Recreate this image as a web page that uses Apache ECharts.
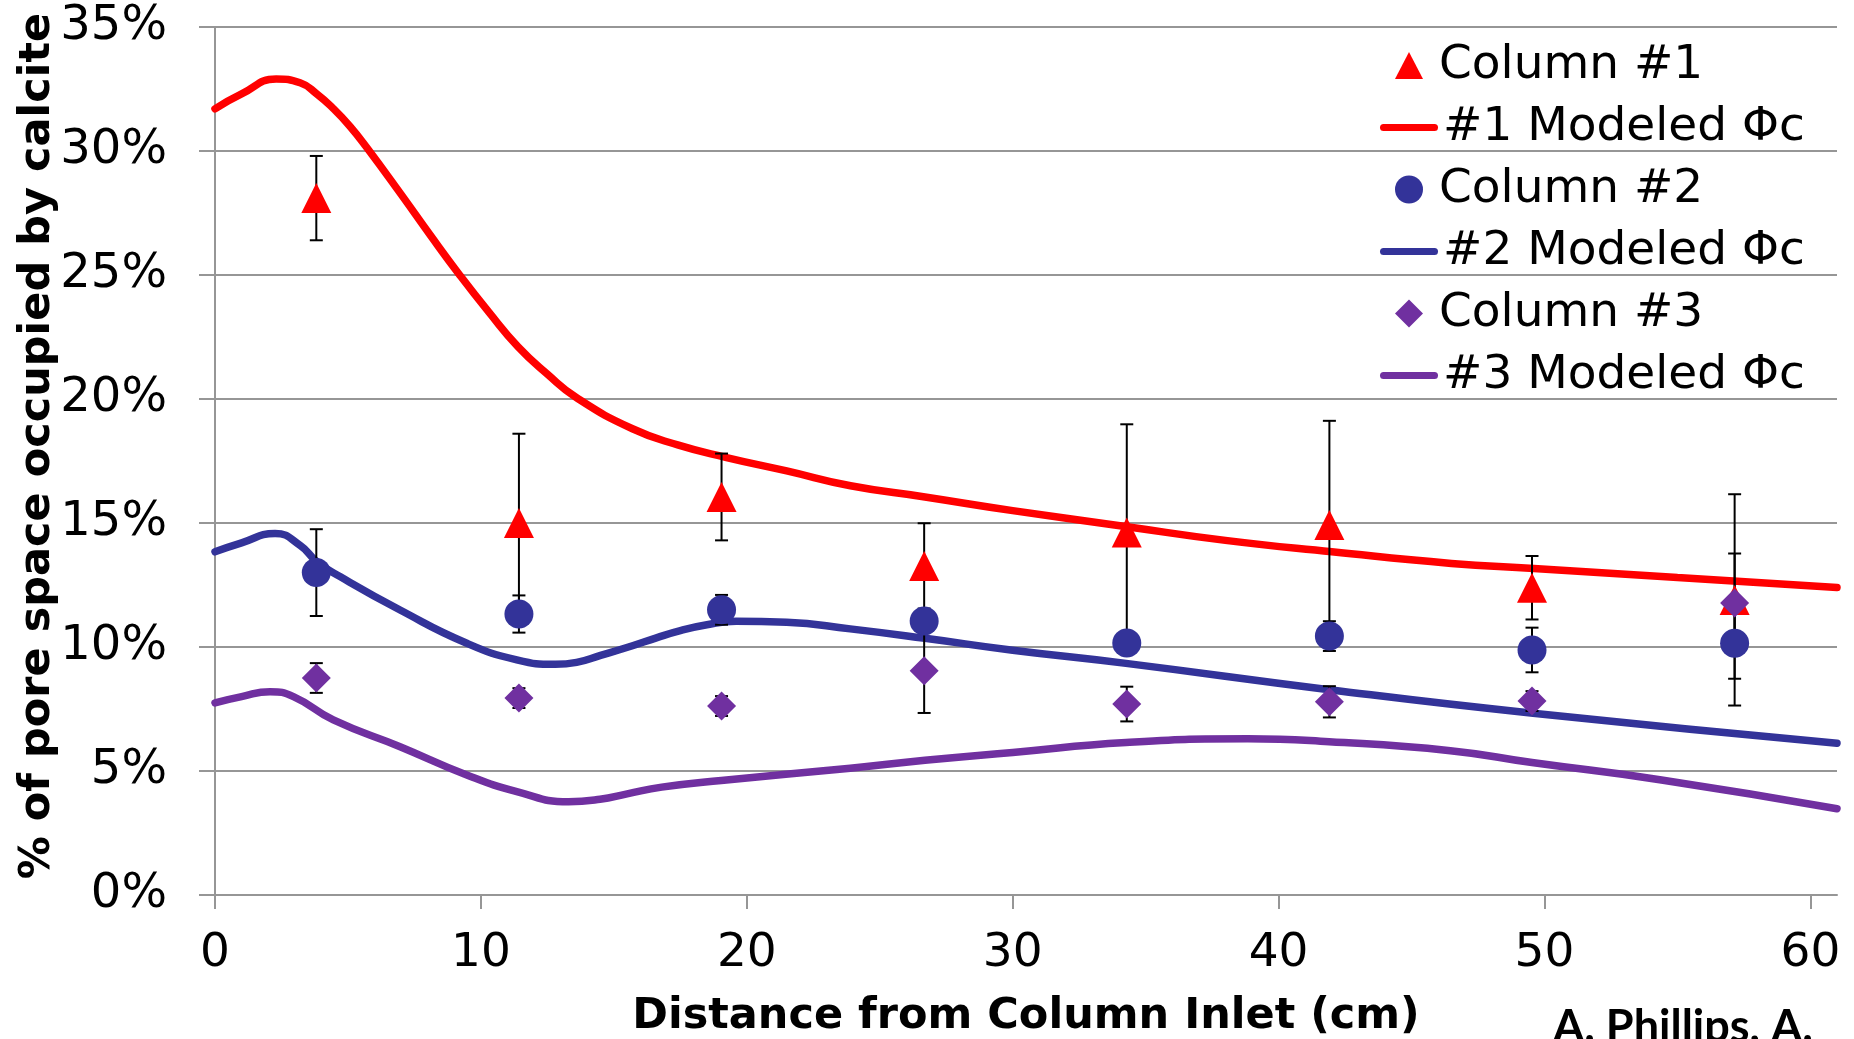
<!DOCTYPE html>
<html><head><meta charset="utf-8">
<script src="https://cdn.jsdelivr.net/npm/echarts@6/dist/echarts.min.js"></script>
<style>html,body{margin:0;padding:0;background:#fff}#c{width:1854px;height:1039px}</style>
</head><body><div id="c"></div>
<script>
// ---- data ----
const distances = [3.81, 11.43, 19.05, 26.67, 34.29, 41.91, 49.53, 57.15];
const col1 = [28.1, 15.0, 16.05, 13.27, 14.62, 14.92, 12.39, 11.9];
const col1Err = [1.7, 3.6, 1.75, 1.72, 4.36, 4.2, 1.28, 4.26];
const col2 = [13.0, 11.33, 11.5, 11.05, 10.16, 10.44, 9.88, 10.15];
const col2Err = [1.75, 0.75, 0.6, 0.4, 0.4, 0.6, 0.9, 1.43];
const col3 = [8.75, 7.94, 7.62, 9.04, 7.70, 7.79, 7.82, 11.77];
const col3Err = [0.6, 0.4, 0.4, 1.7, 0.7, 0.63, 0.4, 2.0];

const model1X = [0, 1, 2.3, 3.2, 3.83, 4.45, 5.08, 5.7, 7.0, 8.1, 9.2, 10.3, 11.4, 12.5, 13.6, 15.7, 17.4, 19.2, 21.5, 23.9, 26.7, 30, 34.3, 38, 42, 46.5, 49.6, 55, 61];
const model1Y = [31.7, 32.3, 32.9, 32.75, 32.3, 31.71, 30.99, 30.15, 28.25, 26.6, 25.0, 23.5, 22.1, 21.0, 20.05, 18.8, 18.15, 17.65, 17.1, 16.5, 16.05, 15.5, 14.85, 14.3, 13.84, 13.37, 13.17, 12.8, 12.4];
const model2X = [0, 1, 2.26, 3.2, 3.83, 4.7, 6.96, 9.47, 11.35, 12.8, 13.6, 14.5, 15.7, 16.6, 17.5, 18.5, 19.6, 21.5, 23.89, 26.7, 30, 34.26, 41.98, 49.57, 61];
const model2Y = [13.84, 14.2, 14.58, 14.1, 13.44, 12.84, 11.49, 10.15, 9.48, 9.3, 9.38, 9.66, 10.05, 10.37, 10.66, 10.9, 11.04, 11.0, 10.73, 10.35, 9.87, 9.34, 8.27, 7.33, 6.12];
const model3X = [0, 1, 2.07, 2.95, 4.45, 6.96, 9.47, 11.35, 13.3, 14.48, 15.5, 16.8, 19.04, 23.89, 26.7, 30, 34.26, 38.84, 41.9, 46.46, 49.53, 54.4, 61];
const model3Y = [7.75, 8.0, 8.2, 8.0, 7.06, 5.98, 4.84, 4.17, 3.76, 3.86, 4.08, 4.35, 4.62, 5.11, 5.43, 5.75, 6.15, 6.3, 6.18, 5.82, 5.34, 4.64, 3.48];

const xTicks = [0, 10, 20, 30, 40, 50, 60];
const yMin = 0, yMax = 35, yStep = 5;

const names = ['Column #1', '#1 Modeled Φc', 'Column #2', '#2 Modeled Φc', 'Column #3', '#3 Modeled Φc'];
const colors = ['#FF0000', '#333399', '#7030A0'];

// ---- helpers ----
const pairs = (xs, ys) => xs.map((x, i) => [x, ys[i]]);
const errData = (vals, errs) => distances.map((x, i) => [x, vals[i] - errs[i], vals[i] + errs[i]]);
function renderErr(params, api) {
  const x = api.value(0), lo = api.value(1), hi = api.value(2);
  const a = api.coord([x, lo]), b = api.coord([x, hi]);
  const w = 6.5;
  const st = { stroke: '#000', lineWidth: 2 };
  return { type: 'group', children: [
    { type: 'line', shape: { x1: a[0], y1: a[1], x2: b[0], y2: b[1] }, style: st },
    { type: 'line', shape: { x1: a[0] - w, y1: a[1], x2: a[0] + w, y2: a[1] }, style: st },
    { type: 'line', shape: { x1: b[0] - w, y1: b[1], x2: b[0] + w, y2: b[1] }, style: st }
  ]};
}
const gray = '#969696';
const font = '"DejaVu Sans", Verdana, sans-serif';
// legend icons drawn inside a 58x28 box (the leading moves fix the box)
const box = 'M0,0 M58,28 ';
const lineIcon = 'path://' + box + 'M32.5,10.5 L54.5,10.5 A3.5,3.5 0 0 1 54.5,17.5 L3.5,17.5 A3.5,3.5 0 0 1 3.5,10.5 Z';
const triIcon = 'path://' + box + 'M29,0.5 L43,27.5 L15,27.5 Z';
const dotIcon = 'path://' + box + 'M15,14 A14,14 0 1 1 43,14 A14,14 0 1 1 15,14 Z';
const diaIcon = 'path://' + box + 'M29,0 L43,14 L29,28 L15,14 Z';
const legendIcons = [triIcon, lineIcon, dotIcon, lineIcon, diaIcon, lineIcon];

const chart = echarts.init(document.getElementById('c'), null, { renderer: 'canvas' });
const lineSeries = (name, xs, ys, color) => ({
  name, type: 'line', data: pairs(xs, ys), smooth: 0.5, symbol: 'none', showSymbol: false,
  lineStyle: { color, width: 7.5, cap: 'round', join: 'round' }, itemStyle: { color }, z: 2, silent: true, animation: false
});
const scatterSeries = (name, vals, symbol, size, color) => ({
  name, type: 'scatter', data: pairs(distances, vals), symbol, symbolSize: size,
  itemStyle: { color, opacity: 1 }, z: 4, silent: true, animation: false
});
const errSeries = (name, vals, errs) => ({
  name, type: 'custom', data: errData(vals, errs), renderItem: renderErr,
  encode: { x: 0, y: [1, 2] }, z: 3, silent: true, animation: false
});

chart.setOption({
  animation: false,
  backgroundColor: '#fff',
  grid: { left: 215, right: 17, top: 27, bottom: 144, outerBoundsMode: 'none' },
  xAxis: {
    type: 'value', min: 0, max: 61, interval: 10,
    axisLine: { show: true, lineStyle: { color: gray, width: 2 } },
    axisTick: { show: true, length: 14, lineStyle: { color: gray, width: 2 }, customValues: xTicks },
    axisLabel: { customValues: xTicks, fontSize: 47, fontFamily: font, color: '#000', margin: 35 },
    splitLine: { show: false }
  },
  yAxis: {
    type: 'value', min: yMin, max: yMax, interval: yStep,
    axisLine: { show: true, lineStyle: { color: gray, width: 2 } },
    axisTick: { show: true, length: 16, lineStyle: { color: gray, width: 2 } },
    axisLabel: { formatter: '{value}%', fontSize: 48, fontFamily: font, color: '#000', margin: 48 },
    splitLine: { show: true, lineStyle: { color: gray, width: 2 } }
  },
  legend: {
    data: names.map((n, i) => i % 2 === 1
      ? { name: n, icon: legendIcons[i] }
      : { name: n, icon: legendIcons[i], textStyle: { padding: [0, 0, 0, -4] } }),
    orient: 'vertical', left: 1380, top: 42, padding: 0,
    itemWidth: 58, itemHeight: 28, itemGap: 15,
    textStyle: { fontSize: 47, fontFamily: font, color: '#000' },
    selectedMode: false
  },
  graphic: [
    { type: 'text', x: 38, y: 446, rotation: Math.PI / 2,
      style: { text: '% of pore space occupied by calcite', font: 'bold 43px "DejaVu Sans"', fill: '#000', align: 'center', verticalAlign: 'middle' } },
    { type: 'text', x: 1026, y: 1017,
      style: { text: 'Distance from Column Inlet (cm)', font: 'bold 43px "DejaVu Sans"', fill: '#000', align: 'center', verticalAlign: 'middle' } },
    { type: 'text', x: 1813, y: 1027,
      style: { text: 'A. Phillips, A.', font: 'bold 45px Lato', fill: '#000', align: 'right', verticalAlign: 'middle' } }
  ],
  series: [
    lineSeries(names[1], model1X, model1Y, colors[0]),
    lineSeries(names[3], model2X, model2Y, colors[1]),
    lineSeries(names[5], model3X, model3Y, colors[2]),
    errSeries('err1', col1, col1Err),
    errSeries('err2', col2, col2Err),
    errSeries('err3', col3, col3Err),
    scatterSeries(names[0], col1, 'triangle', 30, colors[0]),
    scatterSeries(names[2], col2, 'circle', 29, colors[1]),
    scatterSeries(names[4], col3, 'diamond', 29, colors[2])
  ]
});
</script>
</body></html>
